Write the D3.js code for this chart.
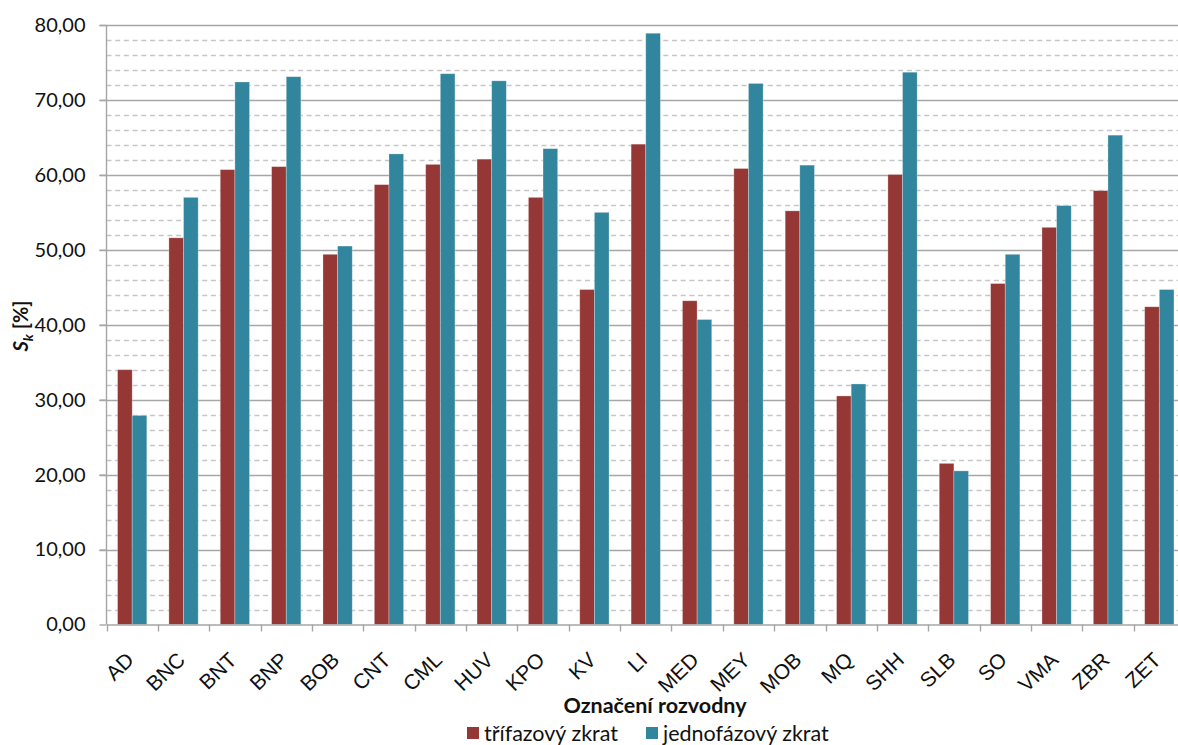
<!DOCTYPE html>
<html>
<head>
<meta charset="utf-8">
<script src="https://cdn.jsdelivr.net/npm/d3@7"></script>
<style>
html,body{margin:0;padding:0;background:#fff;overflow:hidden;}
svg{display:block;font-family:Lato, "Open Sans", sans-serif;}
</style>
</head>
<body>
<svg id="chart" width="1178" height="745"></svg>
<script>
const categories = ["AD","BNC","BNT","BNP","BOB","CNT","CML","HUV","KPO","KV","LI","MED","MEY","MOB","MQ","SHH","SLB","SO","VMA","ZBR","ZET"];
const seriesNames = ["třífazový zkrat","jednofázový zkrat"];
const trojfazovy = [34.0,51.6,60.7,61.1,49.4,58.7,61.4,62.1,57.0,44.7,64.1,43.2,60.85,55.2,30.5,60.05,21.5,45.5,53.0,57.9,42.4];
const jednofazovy = [27.9,57.0,72.4,73.1,50.5,62.8,73.5,72.55,63.5,55.0,78.9,40.7,72.2,61.3,32.1,73.7,20.5,49.4,55.9,65.3,44.7];
const majorTicks = [0,10,20,30,40,50,60,70,80];
const minorTicks = [2,4,6,8,12,14,16,18,22,24,26,28,32,34,36,38,42,44,46,48,52,54,56,58,62,64,66,68,72,74,76,78];
const colors = ["#953735","#31859c"];
const seriesValues = [trojfazovy, jednofazovy];

(function(){
const svg = d3.select("#chart");
const pL = 106.5, pR = 1185, pT = 25, pB = 624.5;

const y = d3.scaleLinear().domain([0,80]).range([pB, pT]);
const x0 = d3.scaleBand().domain(categories).range([pL, pR]).padding(0);
const bw = x0.bandwidth();
const x1 = d3.scaleBand().domain(seriesNames).range([bw*0.215, bw*0.785]).padding(0);

// minor dashed gridlines
svg.append("g").selectAll("line").data(minorTicks).join("line")
  .attr("x1", pL).attr("x2", pR)
  .attr("y1", d => Math.round(y(d))+0.5).attr("y2", d => Math.round(y(d))+0.5)
  .attr("stroke", "#c6c6c6").attr("stroke-width", 1.3).attr("stroke-dasharray", "5,3.7");

// major gridlines
svg.append("g").selectAll("line").data(majorTicks.filter(d=>d>0)).join("line")
  .attr("x1", pL-7).attr("x2", pR)
  .attr("y1", d => Math.round(y(d))+0.5).attr("y2", d => Math.round(y(d))+0.5)
  .attr("stroke", "#a6a6a6").attr("stroke-width", 1.4);

// bars
const groups = svg.append("g").selectAll("g").data(categories).join("g")
  .attr("transform", d => `translate(${x0(d)},0)`);
groups.selectAll("rect").data((d,i) => seriesNames.map((s,j) => ({s, v: seriesValues[j][i], c: colors[j]}))).join("rect")
  .attr("x", d => x1(d.s)).attr("width", x1.bandwidth())
  .attr("y", d => y(d.v)).attr("height", d => y(0) - y(d.v))
  .attr("fill", d => d.c)
  .attr("stroke", "rgba(255,255,255,0.35)").attr("stroke-width", 0.8);

// y axis
const yAxis = d3.axisLeft(y).tickValues(majorTicks).tickSize(7).tickPadding(14)
  .tickFormat(d => d3.format(".2f")(d).replace(".", ","));
const yg = svg.append("g").attr("transform", `translate(${pL},0)`).call(yAxis);
yg.select(".domain").attr("stroke", "#a6a6a6").attr("stroke-width", 1.4).attr("d", `M0,${pT}V${pB}`);
yg.selectAll(".tick line").attr("stroke", "#a6a6a6").attr("stroke-width", 1.4);
yg.selectAll("text").attr("font-size", 20).attr("fill", "#111").attr("font-family", "Lato, sans-serif");

// x axis
const xAxis = d3.axisBottom(x0).tickSize(0).tickFormat("");
const xg = svg.append("g").attr("transform", `translate(0,${pB})`).call(xAxis);
xg.select(".domain").attr("stroke", "#a6a6a6").attr("stroke-width", 1.4);
const boundaries = categories.map(c => x0(c));
xg.selectAll("line.bnd").data(boundaries).join("line").attr("class","bnd")
  .attr("x1", d => Math.round(d)+0.5).attr("x2", d => Math.round(d)+0.5)
  .attr("y1", 0).attr("y2", 7).attr("stroke", "#a6a6a6").attr("stroke-width", 1.4);
xg.selectAll("text.cat").data(categories).join("text").attr("class","cat")
  .attr("transform", d => `translate(${x0(d)+bw/2+3},${37}) rotate(-44)`)
  .attr("text-anchor", "end")
  .attr("font-size", 21).attr("fill", "#111")
  .text(d => d);

// x axis title
svg.append("text").attr("x", 655).attr("y", 713).attr("text-anchor", "middle")
  .attr("font-size", 21.5).attr("font-weight", "bold").attr("fill", "#111")
  .text("Označení rozvodny");

// y axis title
const yt = svg.append("text").attr("transform", "translate(28,326) rotate(-90)")
  .attr("text-anchor", "middle").attr("font-size", 20).attr("font-weight", "bold").attr("fill", "#111");
yt.append("tspan").attr("font-style", "italic").text("S");
yt.append("tspan").attr("font-style", "italic").attr("font-size", 14).attr("dy", 5).text("k");
yt.append("tspan").attr("dy", -5).text(" [%]");

// legend
const legendItems = [{x: 467, name: seriesNames[0], c: colors[0]}, {x: 646, name: seriesNames[1], c: colors[1]}];
const lg = svg.append("g").selectAll("g").data(legendItems).join("g")
  .attr("transform", d => `translate(${d.x},0)`);
lg.append("rect").attr("x", 0).attr("y", 727).attr("width", 12).attr("height", 12).attr("fill", d => d.c);
lg.append("text").attr("x", 17).attr("y", 741).attr("font-size", 21.5).attr("fill", "#111").text(d => d.name);
})();
</script>
</body>
</html>
